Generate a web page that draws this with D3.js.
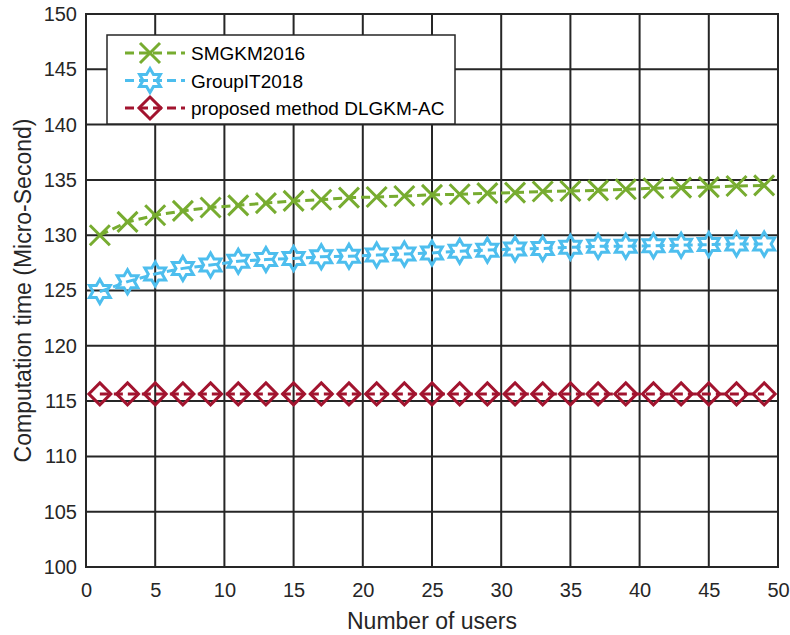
<!DOCTYPE html>
<html>
<head>
<meta charset="utf-8">
<script src="https://cdn.jsdelivr.net/npm/d3@7"></script>
<style>
  body { margin: 0; background: #fff; }
  svg { font-family: "Liberation Sans", Arial, sans-serif; }
  .axis text { fill: #262626; font-size: 20px; }
  .grid line { stroke: #262626; stroke-width: 2; }
</style>
</head>
<body>
<div id="chart"></div>
<script>
// number of users (x)
const users = [1,3,5,7,9,11,13,15,17,19,21,23,25,27,29,31,33,35,37,39,41,43,45,47,49];

// computation time (micro-second)
const smgkm2016 = [130.0,131.2,131.8,132.2,132.5,132.7,132.9,133.1,133.2,133.4,133.45,133.55,133.65,133.7,133.8,133.85,133.95,134.0,134.05,134.15,134.25,134.3,134.35,134.45,134.5];
const groupit2018 = [124.9,125.8,126.5,127.0,127.3,127.65,127.8,127.9,128.05,128.1,128.2,128.3,128.4,128.55,128.65,128.75,128.8,128.9,129.0,129.0,129.05,129.1,129.15,129.2,129.2];
const dlgkmac = [115.65,115.65,115.65,115.65,115.65,115.65,115.65,115.65,115.65,115.65,115.65,115.65,115.65,115.65,115.65,115.65,115.65,115.65,115.65,115.65,115.65,115.65,115.65,115.65,115.65];

const seriesNames = ['SMGKM2016', 'GroupIT2018', 'proposed method DLGKM-AC'];
const xTicks = [0,5,10,15,20,25,30,35,40,45,50];
const yTicks = [100,105,110,115,120,125,130,135,140,145,150];

const colors = ['#77AC30', '#4DBEEE', '#A2142F'];
const markers = ['x', 'hexagram', 'diamond'];

const W = 790, H = 635;
const margin = {top: 14, right: 12, bottom: 68, left: 86};
const width = W - margin.left - margin.right;
const height = H - margin.top - margin.bottom;

const svg = d3.select('#chart').append('svg')
    .attr('width', W).attr('height', H);

const g = svg.append('g')
    .attr('transform', 'translate(' + margin.left + ',' + margin.top + ')');

const x = d3.scaleLinear().domain([0, 50]).range([0, width]);
const y = d3.scaleLinear().domain([100, 150]).range([height, 0]);

// gridlines
g.append('g').attr('class', 'grid')
    .selectAll('line').data(xTicks).enter().append('line')
    .attr('x1', d => x(d)).attr('x2', d => x(d))
    .attr('y1', 0).attr('y2', height);
g.append('g').attr('class', 'grid')
    .selectAll('line').data(yTicks).enter().append('line')
    .attr('y1', d => y(d)).attr('y2', d => y(d))
    .attr('x1', 0).attr('x2', width);

// axes
const xAxis = g.append('g').attr('class', 'axis')
    .attr('transform', 'translate(0,' + height + ')')
    .call(d3.axisBottom(x).tickValues(xTicks).tickSize(0).tickPadding(16));
const yAxis = g.append('g').attr('class', 'axis')
    .call(d3.axisLeft(y).tickValues(yTicks).tickSize(0).tickPadding(9));
[xAxis, yAxis].forEach(a => {
    a.select('.domain').remove();
    a.selectAll('text').attr('font-family', null).attr('font-size', null);
});

// frame
g.append('rect')
    .attr('width', width).attr('height', height)
    .attr('fill', 'none').attr('stroke', '#262626').attr('stroke-width', 2);

function markerPath(type) {
    if (type === 'x') {
        const r = 10;
        return 'M' + (-r) + ',' + (-r) + 'L' + r + ',' + r + 'M' + (-r) + ',' + r + 'L' + r + ',' + (-r);
    }
    if (type === 'diamond') {
        const r = 11;
        return 'M0,' + (-r) + 'L' + r + ',0L0,' + r + 'L' + (-r) + ',0Z';
    }
    // hexagram: two overlapping triangles drawn as one 12-point star
    const R = 12, ri = R / Math.sqrt(3);
    let pts = [];
    for (let i = 0; i < 12; i++) {
        const a = -Math.PI / 2 + i * Math.PI / 6;
        const rr = i % 2 === 0 ? R : ri;
        pts.push([rr * Math.cos(a), rr * Math.sin(a)]);
    }
    return 'M' + pts.map(p => p[0].toFixed(2) + ',' + p[1].toFixed(2)).join('L') + 'Z';
}

const allSeries = [smgkm2016, groupit2018, dlgkmac];
const line = d3.line()
    .x((d, i) => x(users[i]))
    .y(d => y(d));

allSeries.forEach((vals, k) => {
    const sg = g.append('g');
    sg.append('path')
        .attr('d', line(vals))
        .attr('fill', 'none')
        .attr('stroke', colors[k])
        .attr('stroke-width', 3)
        .attr('stroke-dasharray', '9,5');
    sg.selectAll('.mk').data(vals).enter().append('path')
        .attr('class', 'mk')
        .attr('transform', (d, i) => 'translate(' + x(users[i]) + ',' + y(d) + ')')
        .attr('d', markerPath(markers[k]))
        .attr('fill', 'none')
        .attr('stroke', colors[k])
        .attr('stroke-width', 3)
        .attr('stroke-linejoin', 'miter');
});

// legend
const lg = svg.append('g').attr('transform', 'translate(107,35)');
lg.append('rect')
    .attr('width', 348).attr('height', 89)
    .attr('fill', '#fff').attr('stroke', '#262626').attr('stroke-width', 1.5);
seriesNames.forEach((name, k) => {
    const yy = 18 + k * 27.5;
    lg.append('line')
        .attr('x1', 18).attr('x2', 78).attr('y1', yy).attr('y2', yy)
        .attr('stroke', colors[k]).attr('stroke-width', 3)
        .attr('stroke-dasharray', '9,5');
    lg.append('path')
        .attr('transform', 'translate(43,' + yy + ')')
        .attr('d', markerPath(markers[k]))
        .attr('fill', 'none').attr('stroke', colors[k]).attr('stroke-width', 3);
    lg.append('text')
        .attr('x', 84).attr('y', yy + 7)
        .attr('font-size', 19).attr('fill', '#000')
        .text(name);
});

// axis labels
svg.append('text')
    .attr('x', margin.left + width / 2).attr('y', 629)
    .attr('text-anchor', 'middle').attr('font-size', 23).attr('fill', '#262626')
    .text('Number of users');
svg.append('text')
    .attr('transform', 'translate(31,' + (margin.top + height / 2) + ') rotate(-90)')
    .attr('text-anchor', 'middle').attr('font-size', 23).attr('fill', '#262626')
    .text('Computation time (Micro-Second)');
</script>
</body>
</html>
